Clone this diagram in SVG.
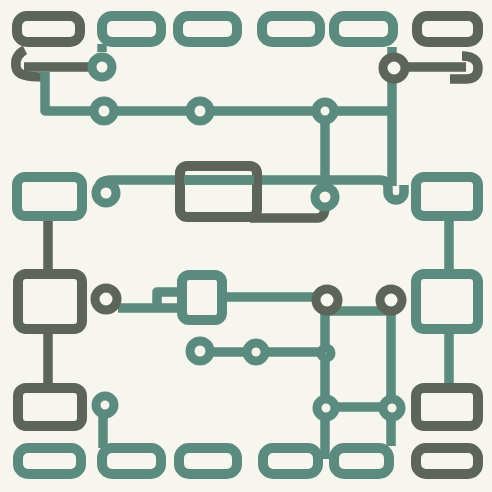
<svg xmlns="http://www.w3.org/2000/svg" width="492" height="492" viewBox="0 0 492 492">
<style>
.n{fill:none;stroke-width:10;stroke-linejoin:round}
.t{stroke:#5a8b7e}
.d{stroke:#5d6459}
.c{fill:#f6f5ee;stroke-width:9}
.l{fill:none;stroke-width:9.5;stroke-linecap:butt;stroke-linejoin:round}
</style>
<rect width="492" height="492" fill="#f6f5ee"/>
<g id="connectors">
<path class="l d" d="M25 50 C17 54 15 60 16 67 C17 75 26 77 45 77"/>
<path class="l d" d="M24 67 H94"/>
<path class="l t" d="M45 72 V111 H392"/>
<path class="l t" d="M392 47 V186"/>
<path class="l t" d="M325 111 V190"/>
<path class="l t" d="M98 190 Q99 180 111 180 H380 Q388 180 388 188 V192 A8 8 0 0 0 404 192 V185"/>
<path class="l d" d="M404 67 H466"/>
<path class="l d" d="M462 56 Q478 56 478 68 Q478 79 466 79 H450"/>
<path class="l d" d="M250 218 H317 Q325 218 325 207"/>
<path class="l d" d="M48 221 V270 M48 334 V384"/>
<path class="l t" d="M449 220 V270 M449 334 V385"/>
<path class="l t" d="M118 308 H178 M157 308 V292 H178"/>
<path class="l t" d="M226 297 H315"/>
<path class="l t" d="M327 311 H391"/>
<path class="l t" d="M325 311 V459 M391 311 V446"/>
<path class="l t" d="M200 352 H326"/>
<path class="l t" d="M326 407 H392"/>
<path class="l t" d="M103 414 V448"/>
<path class="l t" d="M102 44 V52"/>
</g>
<g id="n1"><rect class="n d" x="17" y="16" width="63" height="26" rx="10"/></g>
<g id="n2"><rect class="n t" x="102" y="16" width="59" height="26" rx="10"/></g>
<g id="n3"><rect class="n t" x="178" y="16" width="59" height="26" rx="10"/></g>
<g id="n4"><rect class="n t" x="262" y="16" width="58" height="26" rx="10"/></g>
<g id="n5"><rect class="n t" x="334" y="16" width="59" height="26" rx="10"/></g>
<g id="n6"><rect class="n d" x="417" y="16" width="61" height="26" rx="10"/></g>
<g id="n7"><rect class="n t" x="17" y="177" width="65" height="39" rx="8"/></g>
<g id="n8"><rect class="n d" x="180" y="166" width="77" height="51" rx="7"/><path class="l t" d="M184 180 H254"/></g>
<g id="n9"><rect class="n t" x="416" y="177" width="62" height="39" rx="8"/></g>
<g id="n10"><rect class="n d" x="18" y="274" width="64" height="55" rx="8"/></g>
<g id="n11"><rect class="n t" x="182" y="275" width="40" height="45" rx="7"/></g>
<g id="n12"><rect class="n t" x="416" y="274" width="62" height="55" rx="8"/></g>
<g id="n13"><rect class="n d" x="18" y="388" width="64" height="38" rx="8"/></g>
<g id="n14"><rect class="n d" x="416" y="388" width="62" height="38" rx="8"/></g>
<g id="n15"><rect class="n t" x="18" y="448" width="63" height="26" rx="10"/></g>
<g id="n16"><rect class="n t" x="102" y="448" width="59" height="26" rx="10"/></g>
<g id="n17"><rect class="n t" x="179" y="448" width="58" height="26" rx="10"/></g>
<g id="n18"><rect class="n t" x="263" y="448" width="55" height="26" rx="10"/></g>
<g id="n19"><rect class="n t" x="334" y="448" width="55" height="26" rx="10"/></g>
<g id="n20"><rect class="n d" x="416" y="448" width="62" height="26" rx="10"/></g>
<g id="c1"><circle class="c t" cx="102" cy="67" r="10"/></g>
<g id="c2"><circle class="c t" cx="104" cy="111" r="10"/></g>
<g id="c3"><circle class="c t" cx="200" cy="111" r="10"/></g>
<g id="c4"><circle class="c t" cx="325" cy="111" r="9"/></g>
<g id="c5"><circle class="c d" cx="394" cy="68" r="11"/></g>
<g id="c6"><circle class="c t" cx="106" cy="193" r="10"/></g>
<g id="c7"><circle class="c t" cx="325" cy="197" r="10"/></g>
<g id="c8"><circle class="c d" cx="106" cy="299" r="11"/></g>
<g id="c9"><circle class="c d" cx="327" cy="300" r="11"/></g>
<g id="c10"><circle class="c d" cx="391" cy="300" r="11"/></g>
<g id="c11"><circle class="c t" cx="200" cy="351" r="10"/></g>
<g id="c12"><circle class="c t" cx="256" cy="352" r="9"/></g>
<g id="c13"><circle class="c t" cx="326" cy="353" r="5"/></g>
<g id="c14"><circle class="c t" cx="326" cy="408" r="9"/></g>
<g id="c15"><circle class="c t" cx="392" cy="408" r="9"/></g>
<g id="c16"><circle class="c t" cx="105" cy="405" r="9"/></g>
</svg>
